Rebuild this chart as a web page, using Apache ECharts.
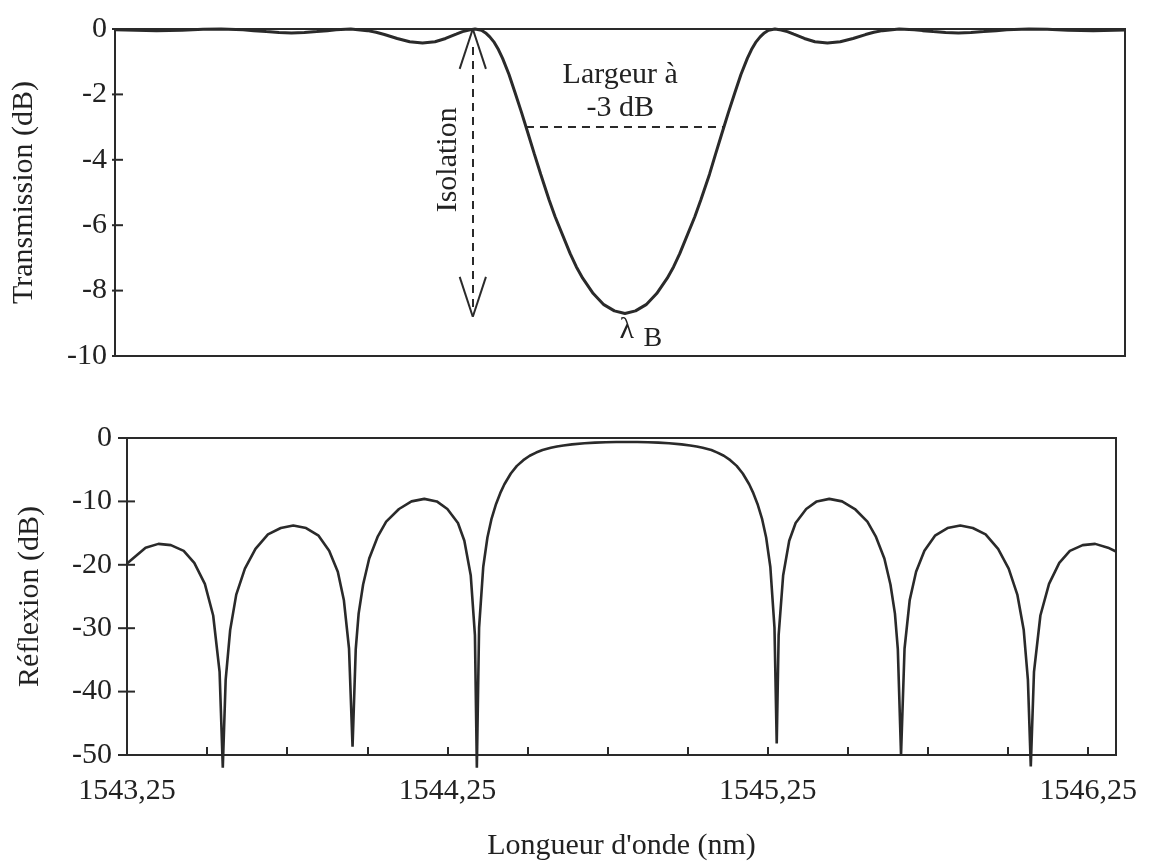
<!DOCTYPE html>
<html>
<head>
<meta charset="utf-8">
<script src="https://cdn.jsdelivr.net/npm/echarts@6/dist/echarts.min.js"></script>
<style>
  html, body { margin: 0; padding: 0; background: #fff; }
  #chart { width: 1156px; height: 862px; }
</style>
</head>
<body>
<div id="chart"></div>
<script>
// Transmission spectrum of the Bragg grating (nm, dB)
const transWavelengths = [
  1543.218, 1543.348, 1543.427, 1543.493, 1543.549, 1543.618, 1543.651, 1543.690, 1543.730, 1543.769,
  1543.809, 1543.848, 1543.881, 1543.908, 1543.954, 1544.006, 1544.033, 1544.059, 1544.099, 1544.138,
  1544.178, 1544.217, 1544.250, 1544.283, 1544.303, 1544.323, 1544.342, 1544.362, 1544.375, 1544.388,
  1544.402, 1544.415, 1544.428, 1544.448, 1544.467, 1544.487, 1544.507, 1544.527, 1544.547, 1544.573,
  1544.592, 1544.639, 1544.658, 1544.678, 1544.711, 1544.744, 1544.777, 1544.810, 1544.843, 1544.876,
  1544.909, 1544.942, 1544.962, 1544.981, 1545.028, 1545.047, 1545.074, 1545.093, 1545.113, 1545.133,
  1545.153, 1545.172, 1545.192, 1545.205, 1545.218, 1545.232, 1545.245, 1545.258, 1545.278, 1545.298,
  1545.317, 1545.337, 1545.370, 1545.403, 1545.442, 1545.482, 1545.522, 1545.561, 1545.587, 1545.614,
  1545.666, 1545.713, 1545.739, 1545.772, 1545.811, 1545.851, 1545.890, 1545.930, 1545.969, 1546.002,
  1546.071, 1546.128, 1546.193, 1546.272, 1546.371
];
const transmissionDb = [
  -0.02, -0.05, -0.04, -0.01, 0, -0.02, -0.05, -0.08, -0.11, -0.12,
  -0.11, -0.08, -0.05, -0.02, 0, -0.05, -0.10, -0.17, -0.29, -0.39,
  -0.43, -0.39, -0.29, -0.16, -0.08, -0.03, 0, -0.04, -0.12, -0.24,
  -0.41, -0.63, -0.90, -1.39, -1.95, -2.55, -3.18, -3.82, -4.44, -5.22,
  -5.74, -6.87, -7.27, -7.62, -8.09, -8.43, -8.62, -8.70, -8.62, -8.43,
  -8.09, -7.62, -7.27, -6.87, -5.74, -5.22, -4.44, -3.82, -3.18, -2.55,
  -1.95, -1.39, -0.90, -0.63, -0.41, -0.24, -0.12, -0.04, 0, -0.03,
  -0.08, -0.16, -0.29, -0.39, -0.43, -0.39, -0.29, -0.17, -0.10, -0.05,
  0, -0.02, -0.05, -0.08, -0.11, -0.12, -0.11, -0.08, -0.05, -0.02,
  0, -0.01, -0.04, -0.05, -0.03
];

// Reflection spectrum of the same grating (nm, dB)
const reflWavelengths = [
  1543.250, 1543.308, 1543.348, 1543.387, 1543.427, 1543.460, 1543.493, 1543.519, 1543.539, 1543.549,
  1543.558, 1543.572, 1543.591, 1543.618, 1543.651, 1543.690, 1543.730, 1543.769, 1543.809, 1543.848,
  1543.881, 1543.908, 1543.927, 1543.943, 1543.954, 1543.964, 1543.973, 1543.987, 1544.006, 1544.033,
  1544.059, 1544.099, 1544.138, 1544.178, 1544.217, 1544.250, 1544.283, 1544.303, 1544.323, 1544.336,
  1544.342, 1544.349, 1544.362, 1544.375, 1544.388, 1544.402, 1544.415, 1544.428, 1544.448, 1544.467,
  1544.487, 1544.507, 1544.527, 1544.547, 1544.573, 1544.592, 1544.612, 1544.639, 1544.678, 1544.711,
  1544.744, 1544.777, 1544.810, 1544.843, 1544.876, 1544.909, 1544.942, 1544.981, 1545.008, 1545.028,
  1545.047, 1545.074, 1545.093, 1545.113, 1545.133, 1545.153, 1545.172, 1545.192, 1545.205, 1545.218,
  1545.232, 1545.245, 1545.258, 1545.271, 1545.278, 1545.284, 1545.298, 1545.317, 1545.337, 1545.370,
  1545.403, 1545.442, 1545.482, 1545.522, 1545.561, 1545.587, 1545.614, 1545.633, 1545.647, 1545.656,
  1545.666, 1545.677, 1545.693, 1545.713, 1545.739, 1545.772, 1545.811, 1545.851, 1545.890, 1545.930,
  1545.969, 1546.002, 1546.029, 1546.049, 1546.062, 1546.071, 1546.081, 1546.101, 1546.128, 1546.160,
  1546.193, 1546.233, 1546.272, 1546.312, 1546.337
];
const reflectionDb = [
  -19.8, -17.3, -16.7, -16.9, -17.8, -19.7, -23.0, -28.0, -36.9, -52.0,
  -38.1, -30.3, -24.7, -20.6, -17.5, -15.2, -14.2, -13.8, -14.2, -15.4,
  -17.8, -21.1, -25.6, -33.2, -48.7, -33.3, -27.7, -23.1, -19.0, -15.5,
  -13.2, -11.2, -10.0, -9.6, -10.0, -11.2, -13.4, -16.2, -21.7, -31.1,
  -52.0, -29.9, -20.3, -15.7, -12.7, -10.4, -8.7, -7.3, -5.6, -4.4,
  -3.5, -2.8, -2.3, -1.9, -1.55, -1.35, -1.17, -1.0, -0.83, -0.73,
  -0.67, -0.64, -0.63, -0.64, -0.67, -0.73, -0.83, -1.0, -1.17, -1.35,
  -1.55, -1.9, -2.3, -2.8, -3.5, -4.4, -5.6, -7.3, -8.7, -10.4,
  -12.7, -15.7, -20.3, -29.9, -48.2, -31.1, -21.7, -16.2, -13.4, -11.2,
  -10.0, -9.6, -10.0, -11.2, -13.2, -15.5, -19.0, -23.1, -27.7, -33.3,
  -50.0, -33.2, -25.6, -21.1, -17.8, -15.4, -14.2, -13.8, -14.2, -15.2,
  -17.5, -20.6, -24.7, -30.3, -38.1, -51.8, -36.9, -28.0, -23.0, -19.7,
  -17.8, -16.9, -16.7, -17.3, -17.9
];

// Tick values of the two dB scales and the labelled wavelengths
const transTicks = [0, -2, -4, -6, -8, -10];
const reflTicks = [0, -10, -20, -30, -40, -50];
const wavelengthLabels = [1543.25, 1544.25, 1545.25, 1546.25];

// -3 dB width and isolation markers (nm, dB)
const widthMarker = { from: [1544.501, -3], to: [1545.119, -3] };
const isolationMarker = { wavelength: 1544.335, top: 0, bottom: -8.8 };

const INK = '#2a2a2a';
const TEXT = '#222';
const FONT = '"Liberation Serif", "Times New Roman", Times, serif';
const FS = 30;

const zip = (xs, ys) => xs.map((x, i) => [x, ys[i]]);

// Open chevron arrowheads of the isolation arrow
const headDx = 0.041, headDy = 1.22;
const iw = isolationMarker.wavelength;
const solid = { type: 'solid', width: 2, color: INK };
const dashed = { type: [8, 6], width: 2, color: INK };
const seg = (a, b, style) => [{ coord: a, lineStyle: style }, { coord: b, lineStyle: style }];

const markerLines = [
  seg(widthMarker.from, widthMarker.to, dashed),
  seg([iw, isolationMarker.top - 0.55], [iw, isolationMarker.bottom + 0.15], dashed),
  seg([iw, isolationMarker.top], [iw - headDx, isolationMarker.top - headDy], solid),
  seg([iw, isolationMarker.top], [iw + headDx, isolationMarker.top - headDy], solid),
  seg([iw, isolationMarker.bottom], [iw - headDx, isolationMarker.bottom + headDy], solid),
  seg([iw, isolationMarker.bottom], [iw + headDx, isolationMarker.bottom + headDy], solid)
];

const isLabelled = v => wavelengthLabels.some(w => Math.abs(w - v) < 1e-6);

const option = {
  animation: false,
  backgroundColor: '#fff',
  textStyle: { fontFamily: FONT },
  grid: [
    { left: 115, top: 29, width: 1010, height: 327, show: true, borderColor: INK, borderWidth: 2 },
    { left: 127, top: 438, width: 989, height: 320, show: true, borderColor: INK, borderWidth: 2 }
  ],
  xAxis: [
    {
      gridIndex: 0, type: 'value', min: 1543.218, max: 1546.371,
      axisLine: { show: false, onZero: false }, axisTick: { show: false }, axisLabel: { show: false },
      splitLine: { show: false }
    },
    {
      gridIndex: 1, type: 'value', min: 1543.25, max: 1546.337, interval: 0.25,
      axisLine: { show: true, onZero: false, lineStyle: { color: INK, width: 2 } },
      axisTick: { show: true, inside: true, length: 8, lineStyle: { color: INK, width: 2 } },
      axisLabel: {
        margin: 21, fontSize: FS, color: TEXT, fontFamily: FONT,
        formatter: v => isLabelled(v) ? v.toFixed(2).replace('.', ',') : ''
      },
      splitLine: { show: false },
      name: "Longueur d'onde (nm)", nameLocation: 'middle', nameGap: 76,
      nameTextStyle: { fontSize: FS, color: TEXT, fontFamily: FONT }
    }
  ],
  yAxis: [
    {
      gridIndex: 0, type: 'value', position: 'left', min: -10, max: 0, interval: 2,
      axisLine: { show: true, onZero: false, lineStyle: { color: INK, width: 2 } },
      axisTick: { show: false },
      axisLabel: { margin: 8, fontSize: FS, color: TEXT, fontFamily: FONT },
      splitLine: { show: false },
      name: 'Transmission (dB)', nameLocation: 'middle', nameGap: 76,
      nameTextStyle: { fontSize: FS, color: TEXT, fontFamily: FONT }
    },
    {
      gridIndex: 1, type: 'value', position: 'left', min: -50, max: 0, interval: 10,
      axisLine: { show: true, onZero: false, lineStyle: { color: INK, width: 2 } },
      axisTick: { show: false },
      axisLabel: { margin: 15, fontSize: FS, color: TEXT, fontFamily: FONT },
      splitLine: { show: false },
      name: 'Réflexion (dB)', nameLocation: 'middle', nameGap: 82,
      nameTextStyle: { fontSize: FS, color: TEXT, fontFamily: FONT }
    }
  ],
  series: [
    {
      name: 'Transmission', type: 'line', xAxisIndex: 0, yAxisIndex: 0,
      data: zip(transWavelengths, transmissionDb),
      symbol: 'none', clip: false,
      lineStyle: { color: INK, width: 3 },
      markLine: {
        silent: true, symbol: ['none', 'none'], animation: false,
        label: { show: false }, emphasis: { disabled: true },
        lineStyle: solid,
        data: markerLines
      }
    },
    {
      name: 'Réflexion', type: 'line', xAxisIndex: 1, yAxisIndex: 1,
      data: zip(reflWavelengths, reflectionDb),
      symbol: 'none', clip: false,
      lineStyle: { color: INK, width: 2.6 }
    }
  ]
};

const chart = echarts.init(document.getElementById('chart'));
chart.setOption(option);

// Crossing ticks on the dB axes, placed through each panel's own scale
const tickMarks = (finder, xAtAxis, values, outside, inside) => values.map(v => {
  const p = chart.convertToPixel(finder, [xAtAxis, v]);
  return {
    type: 'line', silent: true, z: 10,
    shape: { x1: p[0] - outside, y1: p[1], x2: p[0] + inside, y2: p[1] },
    style: { stroke: INK, lineWidth: 2 }
  };
});

// Text annotations placed in data coordinates of the transmission panel
const annotations = [
  { text: 'Largeur à', at: [1544.795, -1.40] },
  { text: '-3 dB', at: [1544.795, -2.41] },
  { text: 'Isolation', at: [1544.258, -4.0], rotation: Math.PI / 2 },
  { text: 'λ', at: [1544.816, -9.22] },
  { text: 'B', at: [1544.897, -9.46], size: 28 }
];
const topFinder = { xAxisIndex: 0, yAxisIndex: 0 };
const bottomFinder = { xAxisIndex: 1, yAxisIndex: 1 };

const texts = annotations.map(a => {
  const p = chart.convertToPixel(topFinder, a.at);
  return {
    type: 'text', x: p[0], y: p[1], rotation: a.rotation || 0, silent: true,
    style: {
      text: a.text, fill: TEXT, align: 'center', verticalAlign: 'middle',
      font: (a.size || FS) + 'px ' + FONT
    }
  };
});

chart.setOption({
  graphic: [
    ...tickMarks(topFinder, 1543.218, transTicks, 3, 8),
    ...tickMarks(bottomFinder, 1543.25, reflTicks, 9, 8),
    ...texts
  ]
});
</script>
</body>
</html>
